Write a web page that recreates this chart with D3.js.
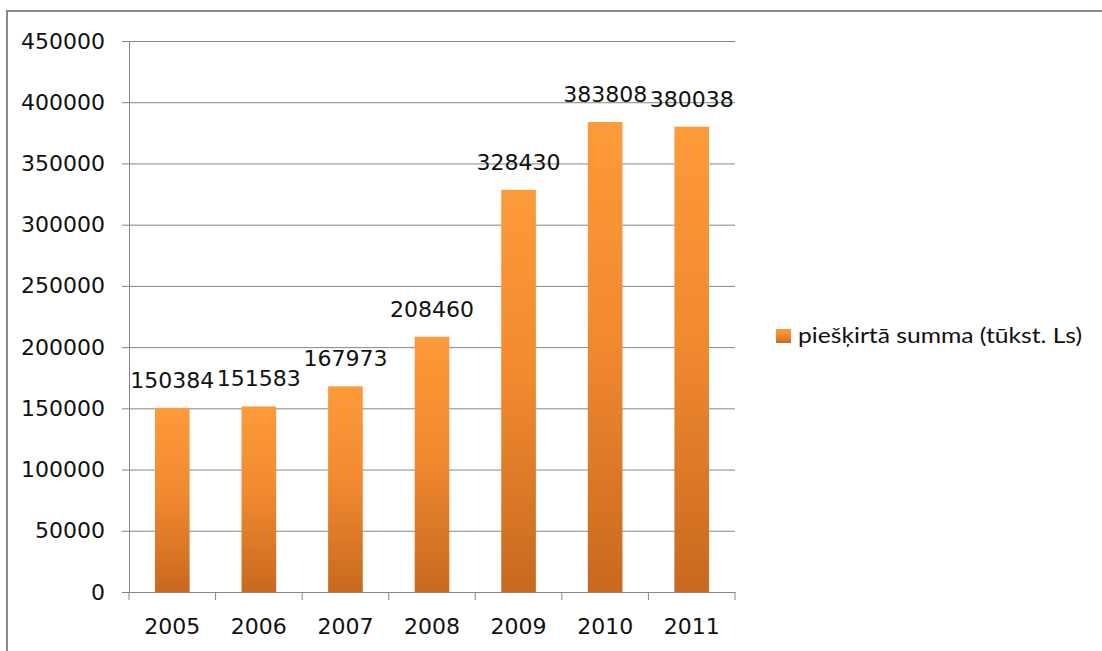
<!DOCTYPE html>
<html>
<head>
<meta charset="utf-8">
<script src="https://cdn.jsdelivr.net/npm/d3@7"></script>
<style>
  body { margin: 0; background: #fff; }
  svg { display: block; }
</style>
</head>
<body>
<svg id="chart" width="1102" height="651"></svg>
<script>
// data
const years = ['2005', '2006', '2007', '2008', '2009', '2010', '2011'];
const amounts = [150384, 151583, 167973, 208460, 328430, 383808, 380038];
const yTicks = [0, 50000, 100000, 150000, 200000, 250000, 300000, 350000, 400000, 450000];
const seriesName = 'piešķirtā summa (tūkst. Ls)';

const svg = d3.select('#chart');
const margin = {left: 129, right: 367, top: 41, bottom: 59};
const width = 1102;
const height = 651;
const numFont = 'DejaVu Sans, Verdana, sans-serif';

// outer chart frame (bottom runs off the picture)
svg.append('rect')
    .attr('x', 7).attr('y', 11)
    .attr('width', 1110).attr('height', 700)
    .attr('fill', 'white')
    .attr('stroke', '#8a8a8a')
    .attr('stroke-width', 2);

const x = d3.scaleBand()
    .domain(years)
    .range([margin.left, width - margin.right])
    .paddingInner(0.6)
    .paddingOuter(0.3);

const y = d3.scaleLinear()
    .domain([0, 450000])
    .range([height - margin.bottom, margin.top]);

// bar gradient, light at top, dark at bottom
const grad = svg.append('defs').append('linearGradient')
    .attr('id', 'barGrad')
    .attr('x1', 0).attr('y1', 0).attr('x2', 0).attr('y2', 1);
grad.append('stop').attr('offset', '0%').attr('stop-color', '#fd9a3a');
grad.append('stop').attr('offset', '45%').attr('stop-color', '#f28a30');
grad.append('stop').attr('offset', '100%').attr('stop-color', '#c9691f');

// gridlines + y axis
const yAxis = svg.append('g')
    .attr('transform', 'translate(' + margin.left + ',0)')
    .call(d3.axisLeft(y)
        .tickValues(yTicks)
        .tickSize(7)
        .tickPadding(17)
        .tickFormat(d3.format('d')));
yAxis.select('.domain').attr('stroke', '#868686');
yAxis.selectAll('.tick line').attr('stroke', '#868686');
yAxis.selectAll('.tick')
    .append('line')
    .attr('x1', 0)
    .attr('x2', x.range()[1] - margin.left)
    .attr('stroke', '#868686');
yAxis.selectAll('.tick text')
    .attr('fill', '#111')
    .style('font-family', numFont)
    .style('font-size', '22px');

// bars
svg.append('g')
    .selectAll('rect')
    .data(amounts)
    .join('rect')
    .attr('x', (d, i) => x(years[i]))
    .attr('y', d => y(d))
    .attr('width', x.bandwidth())
    .attr('height', d => y(0) - y(d))
    .attr('fill', 'url(#barGrad)');

// value labels
svg.append('g')
    .selectAll('text')
    .data(amounts)
    .join('text')
    .attr('x', (d, i) => x(years[i]) + x.bandwidth() / 2)
    .attr('y', d => y(d) - 20)
    .attr('text-anchor', 'middle')
    .attr('fill', '#111')
    .style('font-family', numFont)
    .style('font-size', '22px')
    .text(d => d);

// x axis: labels under the bars, tick marks between categories
const xAxis = svg.append('g')
    .attr('transform', 'translate(0,' + y(0) + ')')
    .call(d3.axisBottom(x).tickSize(0).tickPadding(26));
xAxis.select('.domain').attr('stroke', '#868686');
xAxis.selectAll('.tick text')
    .attr('fill', '#111')
    .style('font-family', numFont)
    .style('font-size', '22px');
xAxis.selectAll('.boundary')
    .data(d3.range(years.length + 1))
    .join('line')
    .attr('class', 'boundary')
    .attr('x1', i => x.range()[0] + i * x.step())
    .attr('x2', i => x.range()[0] + i * x.step())
    .attr('y1', 0)
    .attr('y2', 8)
    .attr('stroke', '#868686');

// legend
const legend = svg.append('g').attr('transform', 'translate(776,329)');
legend.append('rect')
    .attr('width', 15).attr('height', 14)
    .attr('fill', 'url(#barGrad)');
legend.append('text')
    .attr('x', 22)
    .attr('y', 14)
    .attr('fill', '#111')
    .attr('textLength', 284)
    .attr('lengthAdjust', 'spacingAndGlyphs')
    .style('font-family', 'Lato, "Open Sans", sans-serif')
    .style('font-size', '22px')
    .text(seriesName);
</script>
</body>
</html>
